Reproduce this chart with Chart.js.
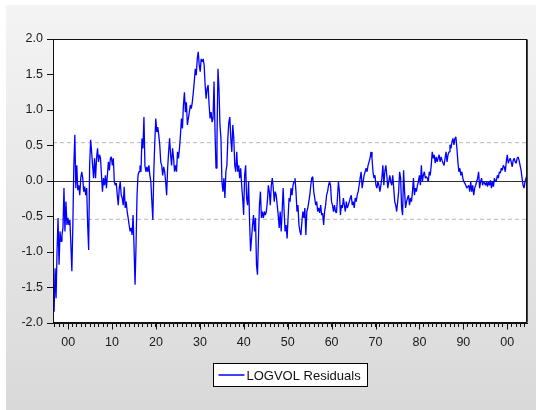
<!DOCTYPE html>
<html><head><meta charset="utf-8">
<script src="https://cdn.jsdelivr.net/npm/chart.js@4/dist/chart.umd.min.js"></script>
<style>html,body{margin:0;padding:0;background:#fff}#wrap{width:538px;height:410px;position:relative}</style>
</head><body><div id="wrap"><canvas id="c" width="538" height="410"></canvas></div>
<script>
// Time span of the residual series (fractional years)
const startYear = 1896.8;
const endYear = 2004.5;
const axisMinYear = 1896.55;
const axisMaxYear = 2004.5;
const seriesLabel = 'LOGVOL Residuals';
const seBand = 0.54;
const yMin = -2.0, yMax = 2.0, yStep = 0.5;
const decadeYears = [1900, 1910, 1920, 1930, 1940, 1950, 1960, 1970, 1980, 1990, 2000];

const resid1897_1923 = [
 -1.84, -1.23, -1.65, -0.99, -0.52, -1.18, -0.71, -0.85, -0.76, -0.66, -0.10, -0.71, -0.29, -0.62, -0.52, -0.62,
 -0.55, -0.90, -1.27, -0.62, 0.22, 0.65, -0.10, 0.22, -0.13, -0.06, -0.20, 0.04, 0.13, 0.04, -0.15, -0.08,
 -0.20, -0.10, -0.62, -0.97, 0.22, 0.58, 0.41, 0.22, 0.04, 0.32, 0.04, 0.32, 0.46, 0.27, 0.37, 0.32,
 0.08, -0.15, 0.04, -0.06, 0.08, -0.10, 0.08, 0.27, 0.15, 0.32, 0.34, 0.22, 0.32, -0.01, -0.06, -0.03,
 -0.20, -0.34, -0.10, -0.01, -0.20, -0.24, -0.34, -0.08, -0.38, -0.29, -0.43, -0.52, -0.62, -0.71, -0.66, -0.76,
 -0.48, -0.95, -1.46, -0.90, -0.20, 0.08, 0.13, 0.22, 0.13, 0.60, 0.46, 0.90, 0.22, 0.13, 0.20, 0.13,
 0.22, 0.08, -0.01, -0.29, -0.55, 0.13, 0.55, 0.88, 0.69, 0.76, 0.65, 0.51, 0.27, 0.22, 0.08, 0.20,
 0.13, -0.01, -0.20, 0.18, 0.41, 0.60, 0.37, 0.22, 0.46, 0.32, 0.13
];
const resid1923_1950 = [
 0.22, 0.13, 0.41, 0.32, 0.46, 0.65, 0.88, 0.74, 1.07, 1.25, 0.97, 1.11, 0.79, 0.88, 0.97, 1.07,
 1.02, 1.11, 1.25, 1.40, 1.58, 1.49, 1.72, 1.82, 1.63, 1.54, 1.72, 1.68, 1.72, 1.63, 1.35, 1.16,
 1.30, 1.35, 1.07, 0.88, 0.97, 0.83, 0.88, 1.40, 0.69, 0.18, 0.60, 1.58, 1.30, 0.79, 0.60, -0.01,
 -0.15, 0.04, -0.24, 0.13, 0.22, 0.60, 0.83, 0.90, 0.60, 0.41, 0.79, 0.60, 0.22, 0.13, 0.41, 0.13,
 0.22, 0.04, 0.18, -0.06, -0.24, -0.48, 0.08, 0.22, -0.24, -0.34, -0.01, -0.57, -0.99, -0.81, -0.62, -0.48,
 -0.71, -0.52, -1.18, -1.32, -0.81, -0.34, -0.15, -0.52, -0.43, -0.52, -0.43, -0.48, -0.43, -0.29, -0.06, -0.15,
 -0.34, -0.06, 0.04, -0.10, -0.29, -0.15, -0.20, -0.34, -0.48, -0.66, -0.43, -0.71, -0.43, -0.10, -0.43, -0.71,
 -0.62, -0.81, -0.52, -0.24, -0.29, -0.10, -0.20
];
const resid1950_1977 = [
 -0.06, -0.01, 0.04, -0.15, -0.43, -0.34, -0.62, -0.71, -0.76, -0.57, -0.43, -0.52, -0.38, -0.76, -0.43, -0.38,
 -0.29, -0.20, -0.06, 0.04, 0.06, -0.15, -0.24, -0.34, -0.29, -0.43, -0.38, -0.45, -0.34, -0.48, -0.45, -0.62,
 -0.43, -0.34, -0.20, -0.15, -0.06, -0.01, -0.06, -0.29, -0.34, -0.43, -0.34, -0.43, -0.45, -0.24, -0.01, -0.15,
 -0.48, -0.34, -0.38, -0.24, -0.34, -0.43, -0.29, -0.38, -0.34, -0.29, -0.24, -0.20, -0.34, -0.29, -0.38, -0.24,
 -0.29, -0.20, -0.15, -0.06, 0.04, 0.13, -0.10, -0.01, 0.08, 0.13, 0.18, 0.13, 0.22, 0.27, 0.32, 0.41,
 0.32, 0.13, 0.04, 0.08, -0.06, -0.10, -0.01, -0.06, -0.15, -0.06, 0.04, 0.22, -0.06, 0.13, 0.22, 0.08,
 -0.10, -0.01, 0.08, -0.01, -0.06, 0.08, -0.10, -0.29, -0.34, -0.43, -0.29, -0.15, 0.13, 0.04, -0.38, -0.48,
 0.15, -0.15, -0.38, -0.29, -0.24, -0.20
];
const resid1977_2004 = [
 -0.34, -0.24, -0.29, -0.15, 0.04, -0.20, -0.10, -0.15, -0.06, -0.01, 0.08, -0.06, 0.22, -0.01, 0.08, 0.13,
 0.04, 0.06, 0.04, -0.01, 0.13, 0.08, 0.22, 0.41, 0.32, 0.37, 0.25, 0.34, 0.27, 0.32, 0.37, 0.27,
 0.34, 0.29, 0.25, 0.22, 0.32, 0.41, 0.27, 0.37, 0.41, 0.51, 0.46, 0.55, 0.60, 0.51, 0.60, 0.62,
 0.46, 0.27, 0.13, 0.18, 0.08, 0.13, 0.04, -0.01, -0.03, -0.06, -0.10, -0.08, -0.06, -0.15, -0.01, -0.15,
 -0.06, -0.20, -0.10, -0.06, -0.01, 0.04, 0.13, -0.10, -0.01, 0.04, -0.06, -0.01, -0.03, -0.06, -0.01, -0.08,
 -0.01, -0.06, 0.01, -0.10, -0.01, -0.08, 0.04, -0.01, 0.01, 0.08, 0.04, 0.13, 0.11, 0.18, 0.15, 0.22,
 0.20, 0.13, 0.27, 0.37, 0.25, 0.29, 0.32, 0.27, 0.20, 0.29, 0.32, 0.27, 0.25, 0.32, 0.34, 0.29,
 0.22, 0.15, 0.04, -0.06, -0.10, -0.01, 0.04, 0.08
];

const residuals = [].concat(resid1897_1923, resid1923_1950, resid1950_1977, resid1977_2004);
const nObs = residuals.length;
const stepYears = (endYear - startYear) / (nObs - 1);
const residPoints = residuals.map((v, i) => ({ x: startYear + i * stepYears, y: v }));
const upperBand = [{ x: axisMinYear, y: seBand }, { x: axisMaxYear, y: seBand }];
const lowerBand = [{ x: axisMinYear, y: -seBand }, { x: axisMaxYear, y: -seBand }];

const FONT = '"Liberation Sans", Arial, Helvetica, sans-serif';
Chart.defaults.font.family = FONT;
Chart.defaults.font.size = 12.5;
Chart.defaults.color = '#1a1a1a';

const bgPlugin = {
  id: 'bg',
  beforeDraw(chart) {
    const ctx = chart.ctx, ca = chart.chartArea;
    ctx.save();
    ctx.fillStyle = '#ffffff';
    ctx.fillRect(0, 0, chart.width, chart.height);
    const g = ctx.createLinearGradient(0, 5, 0, chart.height);
    g.addColorStop(0, '#f4f4f4');
    g.addColorStop(1, '#d9d9d9');
    ctx.fillStyle = g;
    ctx.fillRect(6, 5, chart.width - 8, chart.height - 5);
    ctx.fillStyle = '#ffffff';
    ctx.fillRect(ca.left, ca.top, ca.right - ca.left, ca.bottom - ca.top);
    ctx.restore();
  },
  afterDraw(chart) {
    const ctx = chart.ctx, ca = chart.chartArea;
    const xs = chart.scales.x;
    ctx.save();
    // frame around the plot area
    ctx.strokeStyle = '#111';
    ctx.lineWidth = 1;
    const l = Math.round(ca.left) + 0.5, t = Math.round(ca.top) + 0.5;
    const r = Math.round(ca.right) - 0.5, b = Math.round(ca.bottom) - 0.5;
    ctx.strokeRect(l, t, r - l, b - t);
    ctx.beginPath();
    ctx.moveTo(r + 1, t);
    ctx.lineTo(r + 1, b);
    ctx.strokeStyle = '#444';
    ctx.stroke();
    // longer decade tick marks
    ctx.strokeStyle = '#111';
    ctx.beginPath();
    decadeYears.forEach(yr => {
      const px = Math.round(xs.getPixelForValue(yr)) + 0.5;
      ctx.moveTo(px, b);
      ctx.lineTo(px, b + 7);
    });
    ctx.stroke();
    // legend box
    ctx.font = '13px ' + FONT;
    const tw = ctx.measureText(seriesLabel).width;
    const padL = 5, sample = 26, gap = 2, padR = 7;
    const bw = Math.round(padL + sample + gap + tw + padR), bh = 23;
    const bx = Math.round((ca.left + ca.right) / 2 - bw / 2) + 0.5;
    const by = Math.round(ca.bottom) + 40.5;
    ctx.fillStyle = '#ffffff';
    ctx.fillRect(bx, by, bw, bh);
    ctx.strokeStyle = '#000';
    ctx.lineWidth = 1;
    ctx.strokeRect(bx, by, bw, bh);
    ctx.strokeStyle = '#0000ff';
    ctx.lineWidth = 1.5;
    ctx.beginPath();
    ctx.moveTo(bx + padL, by + bh / 2);
    ctx.lineTo(bx + padL + sample, by + bh / 2);
    ctx.stroke();
    ctx.fillStyle = '#111';
    ctx.textBaseline = 'middle';
    ctx.textAlign = 'left';
    ctx.fillText(seriesLabel, bx + padL + sample + gap, by + bh / 2 + 1);
    ctx.restore();
  }
};

new Chart(document.getElementById('c'), {
  type: 'line',
  data: {
    datasets: [
      { label: seriesLabel, data: residPoints, borderColor: '#0000ff', borderWidth: 1.3,
        pointRadius: 0, tension: 0, borderJoinStyle: 'bevel', fill: false },
      { label: 'upper', data: upperBand, borderColor: '#b8b8b8', borderWidth: 1, borderDash: [4, 3],
        pointRadius: 0, fill: false },
      { label: 'lower', data: lowerBand, borderColor: '#b8b8b8', borderWidth: 1, borderDash: [4, 3],
        pointRadius: 0, fill: false }
    ]
  },
  options: {
    responsive: false,
    animation: false,
    devicePixelRatio: 1,
    layout: { padding: { left: 6, top: 39, right: 11, bottom: 57 } },
    plugins: { legend: { display: false }, tooltip: { enabled: false } },
    scales: {
      x: {
        type: 'linear',
        min: axisMinYear, max: axisMaxYear,
        afterFit(scale) { scale.height = 30; },
        border: { display: true, color: '#111', width: 1 },
        grid: { drawOnChartArea: false, drawTicks: true, tickLength: 4, tickColor: '#111', color: '#111' },
        ticks: {
          stepSize: 1, autoSkip: false, includeBounds: false, maxRotation: 0, padding: 8,
          color: '#1a1a1a',
          callback(v) {
            const yr = Math.round(v);
            if (Math.abs(v - yr) > 1e-6 || yr % 10 !== 0) return '';
            return String(yr % 100).padStart(2, '0');
          }
        }
      },
      y: {
        min: yMin, max: yMax,
        afterFit(scale) { scale.width = 47; },
        border: { display: true, color: '#111', width: 1 },
        grid: {
          drawOnChartArea: true, drawTicks: true, tickLength: 6, tickColor: '#111',
          color: c => (c.tick && Math.abs(c.tick.value) < 1e-9) ? '#333' : 'rgba(0,0,0,0)',
          lineWidth: 1
        },
        ticks: { stepSize: yStep, padding: 4, color: '#1a1a1a', callback: v => Number(v).toFixed(1) }
      }
    }
  },
  plugins: [bgPlugin]
});
</script>
</body></html>
